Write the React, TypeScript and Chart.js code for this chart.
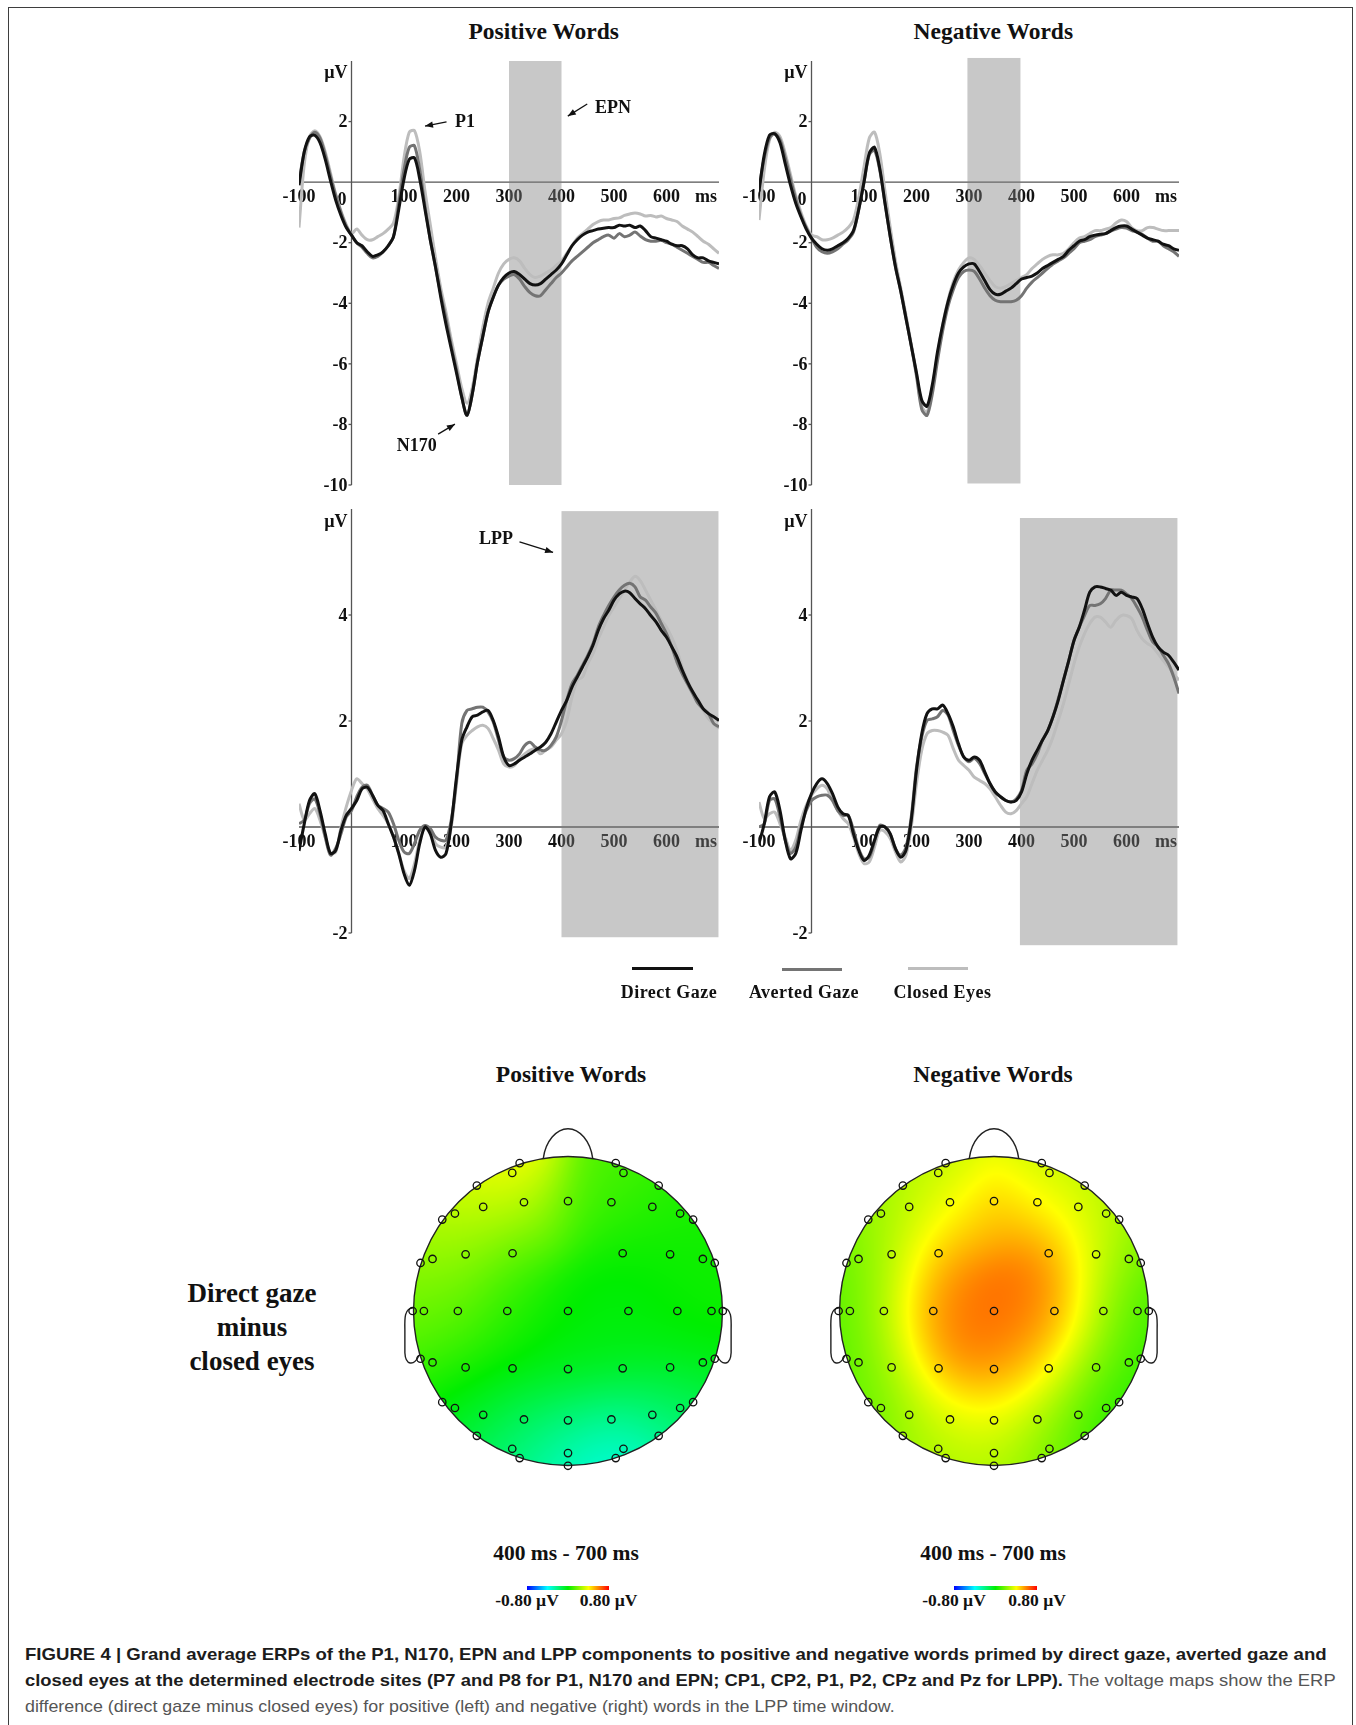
import React, { useEffect, useRef } from 'react';
import { Chart, registerables } from 'chart.js';
Chart.register(...registerables);

const SERIF = '"Liberation Serif", "Times New Roman", Times, serif';
const SANS = '"Liberation Sans", Arial, Helvetica, sans-serif';

// ---------- ERP data (µV), time in ms ----------
const TIMES = [
  -100, -90, -80, -70, -60, -50, -40, -30, -20, -10,
  0, 10, 20, 30, 40, 50, 60, 70, 80, 90,
  100, 110, 120, 130, 140, 150, 160, 170, 180, 190,
  200, 210, 220, 230, 240, 250, 260, 270, 280, 290,
  300, 310, 320, 330, 340, 350, 360, 370, 380, 390,
  400, 410, 420, 430, 440, 450, 460, 470, 480, 490,
  500, 510, 520, 530, 540, 550, 560, 570, 580, 590,
  600, 610, 620, 630, 640, 650, 660, 670, 680, 690,
  700,
];

const SERIES_LABELS = ['Direct Gaze', 'Averted Gaze', 'Closed Eyes'];
const SERIES_COLORS = ['#121212', '#747474', '#bdbdbd'];

const POS_EARLY_DIRECT = [
  -0.1, 1.0, 1.5, 1.55, 1.3, 0.75, 0.05, -0.6, -1.1, -1.5,
  -1.75, -2.0, -2.1, -2.3, -2.45, -2.4, -2.3, -2.1, -1.8, -0.9,
  0.1, 0.75, 0.8, 0.1, -0.9, -1.9, -2.8, -3.8, -4.7, -5.5,
  -6.3, -7.1, -7.7, -7.0, -5.95, -5.1, -4.3, -3.8, -3.4, -3.15,
  -3.0, -2.95, -3.05, -3.2, -3.35, -3.4, -3.35, -3.2, -3.05, -2.9,
  -2.7, -2.4, -2.1, -1.9, -1.75, -1.65, -1.6, -1.55, -1.52, -1.5,
  -1.5, -1.42, -1.45, -1.42, -1.5, -1.45, -1.6, -1.8, -1.85, -1.9,
  -1.95, -2.05, -2.1, -2.1, -2.2, -2.4, -2.5, -2.5, -2.6, -2.65,
  -2.7,
];
const POS_EARLY_AVERTED = [
  0.0, 1.0, 1.45, 1.65, 1.45, 0.9, 0.2, -0.45, -1.0, -1.45,
  -1.75, -2.0, -2.15, -2.35, -2.5, -2.45, -2.3, -2.1, -1.8, -0.7,
  0.4, 1.15, 1.2, 0.4, -0.8, -1.9, -2.8, -3.7, -4.5, -5.4,
  -6.2, -7.1, -7.7, -7.0, -5.95, -5.1, -4.3, -3.8, -3.4, -3.2,
  -3.1, -3.05, -3.2, -3.45, -3.65, -3.75, -3.75, -3.55, -3.35, -3.15,
  -3.0, -2.8, -2.6, -2.45, -2.3, -2.15, -2.0, -1.9, -1.8, -1.75,
  -1.85, -1.7, -1.8, -1.75, -1.65, -1.78, -1.9, -1.95, -1.95, -1.92,
  -2.0, -2.05, -2.15, -2.25, -2.35, -2.45, -2.55, -2.65, -2.65, -2.75,
  -2.85,
];
const POS_EARLY_CLOSED = [
  -1.5, 0.6, 1.5, 1.7, 1.5, 1.0, 0.3, -0.4, -0.95, -1.4,
  -1.7, -1.55, -1.75, -1.9, -1.9, -1.8, -1.7, -1.55, -1.35, -0.5,
  0.8, 1.65, 1.7, 1.0, -0.3, -1.4, -2.5, -3.5, -4.3, -5.2,
  -6.0, -6.8, -7.3, -6.8, -5.8, -4.8, -4.0, -3.5, -3.0, -2.7,
  -2.55, -2.5, -2.6, -2.85, -3.05, -3.15, -3.1, -3.0, -2.9, -2.75,
  -2.6, -2.35, -2.1, -1.85, -1.7, -1.55, -1.4, -1.3, -1.25, -1.25,
  -1.2, -1.18, -1.1, -1.05, -1.02, -1.05, -1.12, -1.1, -1.15, -1.12,
  -1.2, -1.25, -1.3, -1.45, -1.55, -1.65, -1.8, -1.95, -2.05, -2.2,
  -2.35,
];

const NEG_EARLY_DIRECT = [
  -0.3, 0.9, 1.55, 1.6, 1.3, 0.6, -0.1, -0.7, -1.15, -1.55,
  -1.85, -2.05, -2.2, -2.25, -2.2, -2.1, -2.0, -1.85, -1.6, -0.9,
  0.0, 0.95, 1.15, 0.45, -0.7, -1.8, -2.8, -3.6, -4.5, -5.4,
  -6.3, -7.2, -7.4, -6.7, -5.6, -4.7, -3.95, -3.4, -3.0, -2.8,
  -2.7, -2.7, -2.95, -3.25, -3.55, -3.7, -3.7, -3.6, -3.5, -3.35,
  -3.2, -3.15, -3.1, -3.0, -2.85, -2.75, -2.65, -2.55, -2.45, -2.25,
  -2.1, -1.95, -1.9, -1.8, -1.75, -1.72, -1.7, -1.6, -1.5, -1.45,
  -1.45, -1.55, -1.65, -1.75, -1.85, -1.9, -1.95, -2.05, -2.1, -2.2,
  -2.25,
];
const NEG_EARLY_AVERTED = [
  -0.2, 0.8, 1.45, 1.6, 1.4, 0.8, 0.1, -0.55, -1.1, -1.5,
  -1.85, -2.15, -2.3, -2.35, -2.3, -2.2, -2.05, -1.9, -1.65, -0.9,
  0.0, 0.9, 1.05, 0.4, -0.7, -1.8, -2.8, -3.6, -4.5, -5.4,
  -6.4, -7.5, -7.7, -7.0, -5.9, -4.9, -4.1, -3.55, -3.15, -2.95,
  -2.9, -2.95, -3.2, -3.5, -3.75, -3.9, -3.95, -3.95, -3.95, -3.9,
  -3.75, -3.5, -3.3, -3.15, -3.0, -2.85, -2.7, -2.6, -2.5, -2.35,
  -2.2, -2.0, -1.95, -1.9, -1.8, -1.75, -1.7, -1.62, -1.55, -1.5,
  -1.52, -1.6, -1.65, -1.72, -1.85, -1.95, -1.95, -2.1, -2.2, -2.3,
  -2.45,
];
const NEG_EARLY_CLOSED = [
  -1.25, 0.4, 1.4, 1.65, 1.5, 0.95, 0.25, -0.45, -1.0, -1.45,
  -1.75, -1.8, -1.9, -1.9, -1.85, -1.75, -1.65, -1.5, -1.25, -0.5,
  0.5, 1.45, 1.65, 0.95, -0.3, -1.5, -2.6, -3.5, -4.4, -5.35,
  -6.3, -7.4, -7.6, -6.8, -5.7, -4.7, -3.9, -3.3, -2.9, -2.65,
  -2.5, -2.55, -2.75, -3.0, -3.25, -3.45, -3.5, -3.45, -3.35, -3.25,
  -3.15, -3.05, -2.85, -2.7, -2.55, -2.45, -2.4, -2.4, -2.35, -2.2,
  -2.0, -1.85, -1.8, -1.7, -1.6, -1.6, -1.55, -1.5, -1.35, -1.25,
  -1.3, -1.5, -1.6, -1.6, -1.5, -1.5, -1.55, -1.6, -1.6, -1.6,
  -1.6,
];

const POS_LPP_DIRECT = [
  -0.45, 0.06, 0.5, 0.63, 0.31, -0.13, -0.5, -0.44, -0.06, 0.22,
  0.35, 0.5, 0.72, 0.75, 0.6, 0.41, 0.31, 0.06, -0.19, -0.5,
  -0.88, -1.1, -0.82, -0.31, 0.0, -0.13, -0.44, -0.57, -0.5, 0.06,
  0.94, 1.64, 1.89, 2.08, 2.11, 2.17, 2.2, 2.01, 1.7, 1.32,
  1.16, 1.19, 1.26, 1.32, 1.38, 1.45, 1.51, 1.6, 1.76, 1.98,
  2.2, 2.39, 2.64, 2.83, 3.02, 3.21, 3.43, 3.71, 3.93, 4.09,
  4.28, 4.4, 4.45, 4.42, 4.31, 4.21, 4.12, 3.99, 3.87, 3.71,
  3.58, 3.4, 3.21, 2.96, 2.74, 2.55, 2.39, 2.23, 2.14, 2.08,
  2.01,
];
const POS_LPP_AVERTED = [
  0.06, 0.13, 0.44, 0.53, 0.25, -0.19, -0.53, -0.4, -0.13, 0.19,
  0.31, 0.57, 0.75, 0.79, 0.6, 0.41, 0.35, 0.28, 0.06, -0.25,
  -0.47, -0.5, -0.31, -0.06, 0.03, -0.03, -0.19, -0.25, -0.25, 0.13,
  0.88, 1.95, 2.2, 2.23, 2.26, 2.26, 2.17, 1.98, 1.64, 1.32,
  1.26, 1.29, 1.38, 1.54, 1.6, 1.51, 1.45, 1.45, 1.54, 1.7,
  2.01, 2.39, 2.7, 2.86, 3.05, 3.24, 3.46, 3.77, 3.99, 4.18,
  4.34, 4.47, 4.56, 4.6, 4.53, 4.34, 4.28, 4.15, 4.03, 3.84,
  3.65, 3.4, 3.11, 2.89, 2.7, 2.52, 2.33, 2.23, 2.14, 1.95,
  1.89,
];
const POS_LPP_CLOSED = [
  0.44, 0.13, 0.25, 0.35, 0.13, -0.19, -0.5, -0.47, 0.0, 0.38,
  0.69, 0.91, 0.82, 0.72, 0.53, 0.35, 0.22, 0.06, -0.19, -0.5,
  -0.82, -0.97, -0.69, -0.25, 0.0, -0.06, -0.31, -0.38, -0.38, 0.0,
  0.82, 1.57, 1.73, 1.82, 1.89, 1.92, 1.86, 1.67, 1.45, 1.19,
  1.13, 1.16, 1.29, 1.38, 1.45, 1.48, 1.38, 1.45, 1.51, 1.64,
  1.76, 2.01, 2.45, 2.77, 2.83, 3.08, 3.27, 3.55, 3.77, 3.99,
  4.15, 4.31, 4.47, 4.62, 4.73, 4.65, 4.47, 4.28, 4.09, 3.9,
  3.77, 3.58, 3.33, 3.02, 2.77, 2.55, 2.36, 2.2, 2.04, 1.95,
  1.86,
];

const NEG_LPP_DIRECT = [
  -0.31, 0.06, 0.57, 0.66, 0.31, -0.25, -0.6, -0.5, -0.06, 0.35,
  0.63, 0.82, 0.91, 0.82, 0.63, 0.38, 0.25, 0.22, -0.13, -0.44,
  -0.63, -0.53, -0.25, 0.0, 0.0, -0.13, -0.41, -0.57, -0.44, 0.13,
  1.07, 1.76, 2.14, 2.23, 2.23, 2.3, 2.14, 1.89, 1.57, 1.32,
  1.26, 1.32, 1.26, 1.04, 0.82, 0.66, 0.57, 0.5, 0.47, 0.5,
  0.66, 1.0, 1.26, 1.45, 1.64, 1.82, 2.08, 2.39, 2.77, 3.14,
  3.52, 3.77, 4.09, 4.43, 4.53, 4.53, 4.5, 4.47, 4.37, 4.43,
  4.37, 4.34, 4.31, 4.12, 3.84, 3.58, 3.4, 3.3, 3.24, 3.11,
  2.96,
];
const NEG_LPP_AVERTED = [
  0.0, 0.06, 0.5, 0.53, 0.19, -0.25, -0.5, -0.38, 0.0, 0.31,
  0.5, 0.57, 0.6, 0.6, 0.5, 0.31, 0.22, 0.22, -0.06, -0.41,
  -0.6, -0.57, -0.28, 0.03, 0.0, -0.13, -0.41, -0.53, -0.38, 0.19,
  1.13, 1.7, 2.01, 2.04, 2.08, 2.2, 2.11, 1.82, 1.54, 1.32,
  1.23, 1.29, 1.2, 1.01, 0.82, 0.66, 0.57, 0.5, 0.47, 0.53,
  0.69, 1.07, 1.19, 1.38, 1.64, 1.82, 2.08, 2.42, 2.77, 3.14,
  3.52, 3.77, 3.99, 4.18, 4.18, 4.21, 4.31, 4.47, 4.47, 4.47,
  4.4, 4.31, 4.15, 3.96, 3.71, 3.49, 3.4, 3.24, 3.08, 2.83,
  2.52,
];
const NEG_LPP_CLOSED = [
  0.47, 0.16, 0.25, 0.28, 0.06, -0.19, -0.44, -0.25, 0.13, 0.41,
  0.6, 0.72, 0.79, 0.72, 0.5, 0.31, 0.16, 0.06, -0.19, -0.5,
  -0.69, -0.66, -0.38, -0.06, -0.09, -0.22, -0.47, -0.66, -0.53, 0.0,
  0.82, 1.45, 1.76, 1.82, 1.82, 1.79, 1.73, 1.48, 1.26, 1.16,
  1.07, 0.94, 0.88, 0.82, 0.72, 0.57, 0.41, 0.28, 0.25, 0.31,
  0.44, 0.57, 0.82, 1.07, 1.26, 1.45, 1.7, 2.01, 2.33, 2.7,
  3.08, 3.4, 3.65, 3.84, 3.96, 3.96, 3.87, 3.77, 3.9, 3.99,
  3.99, 3.93, 3.71, 3.55, 3.46, 3.4, 3.27, 3.14, 3.02, 2.89,
  2.77,
];

const X_TICKS_TOP = [-100, 0, 100, 200, 300, 400, 500, 600, 700];
const X_TICKS_BOTTOM = [-100, 100, 200, 300, 400, 500, 600, 700];
const Y_TICKS_TOP = [2, -2, -4, -6, -8, -10];
const Y_TICKS_BOTTOM = [4, 2, -2];

// ---------- Topographic map data ----------
// electrode positions (unit head circle, y positive = posterior)
const ELEC_X = [
  -1.006, -0.933, -0.713, -0.393, 0, 0.391, 0.708, 0.929, 1.002,
  -0.955, -0.877, -0.663, -0.359, 0.354, 0.661, 0.873, 0.95,
  -0.955, -0.877, -0.663, -0.359, 0, 0.354, 0.661, 0.873, 0.95,
  -0.814, -0.732, -0.549, -0.285, 0, 0.281, 0.546, 0.726, 0.81,
  -0.814, -0.732, -0.549, -0.285, 0, 0.281, 0.546, 0.726, 0.81,
  -0.59, -0.361, -0.313, 0.309, 0.359, 0.587,
  -0.59, -0.361, -0.313, 0, 0, 0.309, 0.359, 0.587,
];
const ELEC_Y = [
  0, 0, 0, 0, 0, 0, 0, 0, 0,
  -0.311, -0.337, -0.367, -0.374, -0.374, -0.367, -0.337, -0.311,
  0.309, 0.333, 0.365, 0.371, 0.376, 0.371, 0.365, 0.333, 0.309,
  -0.592, -0.631, -0.674, -0.704, -0.711, -0.704, -0.674, -0.631, -0.592,
  0.59, 0.628, 0.672, 0.702, 0.708, 0.702, 0.672, 0.628, 0.59,
  -0.812, -0.894, -0.957, -0.957, -0.894, -0.812,
  0.808, 0.892, 0.952, 0.92, 1.002, 0.952, 0.892, 0.808,
];
// direct gaze minus closed eyes, 400-700 ms (µV)
const POS_MAP_VALUES = [
  0.18, 0.17, 0.13, 0.06, 0.0, -0.02, 0.0, 0.02, 0.03,
  0.24, 0.22, 0.18, 0.1, 0.0, 0.0, 0.02, 0.03,
  0.12, 0.1, 0.06, 0.0, -0.03, -0.03, -0.02, -0.02, -0.03,
  0.32, 0.3, 0.26, 0.2, 0.12, 0.07, 0.05, 0.04, 0.04,
  -0.02, -0.04, -0.07, -0.1, -0.12, -0.14, -0.14, -0.15, -0.16,
  0.4, 0.42, 0.44, 0.14, 0.12, 0.07,
  -0.12, -0.2, -0.24, -0.28, -0.36, -0.42, -0.38, -0.28,
];
const NEG_MAP_VALUES = [
  0.08, 0.16, 0.38, 0.6, 0.64, 0.6, 0.36, 0.12, 0.04,
  0.1, 0.18, 0.38, 0.58, 0.64, 0.44, 0.2, 0.1,
  0.08, 0.16, 0.38, 0.62, 0.6, 0.5, 0.32, 0.12, 0.03,
  0.18, 0.22, 0.36, 0.48, 0.52, 0.52, 0.45, 0.28, 0.2,
  0.08, 0.14, 0.32, 0.44, 0.44, 0.38, 0.28, 0.08, -0.06,
  0.22, 0.28, 0.28, 0.28, 0.28, 0.22,
  0.18, 0.26, 0.24, 0.3, 0.24, 0.18, 0.16, -0.06,
];
const MAP_RANGE = [-0.8, 0.8];

// ---------- helpers ----------
function jet(v: number): [number, number, number] {
  let s = (v - MAP_RANGE[0]) / (MAP_RANGE[1] - MAP_RANGE[0]);
  s = Math.max(0, Math.min(1, s));
  const stops: [number, number, number, number][] = [
    [0, 0, 0, 255],
    [0.25, 0, 255, 255],
    [0.5, 0, 238, 0],
    [0.75, 255, 255, 0],
    [1, 255, 0, 0],
  ];
  for (let i = 0; i < stops.length - 1; i++) {
    const a = stops[i], b = stops[i + 1];
    if (s <= b[0]) {
      const f = (s - a[0]) / (b[0] - a[0]);
      return [a[1] + (b[1] - a[1]) * f, a[2] + (b[2] - a[2]) * f, a[3] + (b[3] - a[3]) * f];
    }
  }
  return [255, 0, 0];
}

type Note = { text: string; tx: number; ty: number; from: [number, number]; to: [number, number] };
type Panel = {
  left: number; top: number;
  series: number[][];
  yMin: number; yMax: number; yTicks: number[]; xTicks: number[]; unitY: number;
  shade: { x0: number; x1: number; y0: number; y1: number };
  notes: Note[];
};

const PAD = { left: 70, right: 50, top: 40, bottom: 40 };
const AREA_W = 420;
const AREA_H = 424;

function ErpPanel({ p }: { p: Panel }) {
  const ref = useRef<HTMLCanvasElement>(null);
  useEffect(() => {
    const axesPlugin = {
      id: 'erpAxes',
      beforeDatasetsDraw(chart: any) {
        const { ctx, scales } = chart;
        const x = scales.x, y = scales.y;
        const x0 = x.getPixelForValue(0);
        const y0 = y.getPixelForValue(0);
        ctx.save();
        ctx.strokeStyle = '#555';
        ctx.lineWidth = 1.3;
        ctx.beginPath();
        ctx.moveTo(x.getPixelForValue(-100), y0);
        ctx.lineTo(x.getPixelForValue(700), y0);
        ctx.moveTo(x0, y.getPixelForValue(p.yMax));
        ctx.lineTo(x0, y.getPixelForValue(p.yMin));
        ctx.stroke();
        ctx.fillStyle = '#111';
        ctx.font = `bold 18px ${SERIF}`;
        ctx.textBaseline = 'middle';
        ctx.textAlign = 'right';
        for (const v of p.yTicks) {
          const py = y.getPixelForValue(v);
          ctx.beginPath();
          ctx.moveTo(x0 - 3, py);
          ctx.lineTo(x0, py);
          ctx.stroke();
          ctx.fillText(String(v), x0 - 4, py + 1);
        }
        ctx.fillText('µV', x0 - 4, y.getPixelForValue(p.unitY));
        for (const t of p.xTicks) {
          const px = x.getPixelForValue(t);
          if (t === 0) {
            ctx.textAlign = 'right';
            ctx.fillText('0', x0 - 5, y0 + 18);
          } else {
            ctx.textAlign = 'center';
            ctx.fillText(t === 700 ? 'ms' : String(t), t === 700 ? px - 13 : px, y0 + 15);
          }
        }
        // analysis window
        const sx0 = x.getPixelForValue(p.shade.x0), sx1 = x.getPixelForValue(p.shade.x1);
        const sy0 = y.getPixelForValue(p.shade.y1), sy1 = y.getPixelForValue(p.shade.y0);
        ctx.fillStyle = 'rgba(128,128,128,0.43)';
        ctx.fillRect(sx0, sy0, sx1 - sx0, sy1 - sy0);
        // component annotations
        ctx.fillStyle = '#111';
        ctx.strokeStyle = '#111';
        ctx.lineWidth = 1.3;
        ctx.textAlign = 'left';
        for (const n of p.notes) {
          ctx.fillText(n.text, x.getPixelForValue(n.tx), y.getPixelForValue(n.ty));
          const ax = x.getPixelForValue(n.from[0]), ay = y.getPixelForValue(n.from[1]);
          const bx = x.getPixelForValue(n.to[0]), by = y.getPixelForValue(n.to[1]);
          ctx.beginPath();
          ctx.moveTo(ax, ay);
          ctx.lineTo(bx, by);
          ctx.stroke();
          const ang = Math.atan2(by - ay, bx - ax);
          const L = 8, Wd = 3.2;
          ctx.beginPath();
          ctx.moveTo(bx, by);
          ctx.lineTo(bx - L * Math.cos(ang) + Wd * Math.sin(ang), by - L * Math.sin(ang) - Wd * Math.cos(ang));
          ctx.lineTo(bx - L * Math.cos(ang) - Wd * Math.sin(ang), by - L * Math.sin(ang) + Wd * Math.cos(ang));
          ctx.closePath();
          ctx.fill();
        }
        ctx.restore();
      },
    };
    const chart = new Chart(ref.current as HTMLCanvasElement, {
      type: 'line',
      data: {
        datasets: SERIES_LABELS.map((label, i) => ({
          label,
          data: TIMES.map((t, k) => ({ x: t, y: p.series[i][k] })),
          borderColor: SERIES_COLORS[i],
          borderWidth: 3,
          pointRadius: 0,
          tension: 0.3,
          fill: false,
        })),
      },
      options: {
        responsive: false,
        animation: false,
        devicePixelRatio: 1,
        events: [],
        layout: { padding: PAD, autoPadding: false },
        plugins: { legend: { display: false }, tooltip: { enabled: false }, title: { display: false } },
        scales: {
          x: { type: 'linear', min: -100, max: 700, display: false },
          y: { type: 'linear', min: p.yMin, max: p.yMax, display: false },
        },
      } as any,
      plugins: [axesPlugin],
    });
    return () => chart.destroy();
  }, []);
  const w = AREA_W + PAD.left + PAD.right;
  const h = AREA_H + PAD.top + PAD.bottom;
  return (
    <canvas
      ref={ref}
      width={w}
      height={h}
      style={{ position: 'absolute', left: p.left - PAD.left, top: p.top - PAD.top, width: w, height: h }}
    />
  );
}

const MAP_SIZE = 380;
const MAP_EXTENT = 1.23;

function TopoMap({ left, top, values }: { left: number; top: number; values: number[] }) {
  const ref = useRef<HTMLCanvasElement>(null);
  useEffect(() => {
    const headPlugin = {
      id: 'head',
      beforeDatasetsDraw(chart: any) {
        const { ctx, scales } = chart;
        const x = scales.x, y = scales.y;
        const cx = x.getPixelForValue(0), cy = y.getPixelForValue(0);
        const r = x.getPixelForValue(1) - cx;
        const bx = Math.floor(cx - r) - 1, by = Math.floor(cy - r) - 1;
        const size = Math.ceil(2 * r) + 3;
        const img = ctx.createImageData(size, size);
        const sig2 = 2 * 0.22 * 0.22;
        for (let j = 0; j < size; j++) {
          const ny = y.getValueForPixel(by + j + 0.5);
          for (let i = 0; i < size; i++) {
            const nx = x.getValueForPixel(bx + i + 0.5);
            if (nx * nx + ny * ny > 1.0) continue;
            let sw = 0, sv = 0;
            for (let k = 0; k < ELEC_X.length; k++) {
              const dx = nx - ELEC_X[k], dy = ny - ELEC_Y[k];
              const w = Math.exp(-(dx * dx + dy * dy) / sig2);
              sw += w;
              sv += w * values[k];
            }
            const c = jet(sv / sw);
            const o = (j * size + i) * 4;
            img.data[o] = c[0];
            img.data[o + 1] = c[1];
            img.data[o + 2] = c[2];
            img.data[o + 3] = 255;
          }
        }
        ctx.putImageData(img, bx, by);
        const P = (a: number, b: number): [number, number] => [x.getPixelForValue(a), y.getPixelForValue(b)];
        ctx.save();
        ctx.strokeStyle = '#222';
        ctx.lineWidth = 1.4;
        ctx.beginPath();
        ctx.arc(cx, cy, r, 0, Math.PI * 2);
        ctx.stroke();
        // nose
        ctx.beginPath();
        ctx.moveTo(...P(-0.16, -0.988));
        ctx.bezierCurveTo(...P(-0.145, -1.1), ...P(-0.075, -1.18), ...P(0, -1.18));
        ctx.bezierCurveTo(...P(0.075, -1.18), ...P(0.145, -1.1), ...P(0.16, -0.988));
        ctx.stroke();
        // ears
        for (const sgn of [-1, 1]) {
          ctx.beginPath();
          ctx.moveTo(...P(sgn * 1.0, -0.02));
          ctx.bezierCurveTo(...P(sgn * 1.06, -0.02), ...P(sgn * 1.058, 0.05), ...P(sgn * 1.056, 0.12));
          ctx.lineTo(...P(sgn * 1.056, 0.27));
          ctx.bezierCurveTo(...P(sgn * 1.052, 0.35), ...P(sgn * 1.0, 0.36), ...P(sgn * 0.965, 0.29));
          ctx.stroke();
        }
        ctx.restore();
      },
    };
    const chart = new Chart(ref.current as HTMLCanvasElement, {
      type: 'scatter',
      data: {
        datasets: [{
          label: 'electrodes',
          data: ELEC_X.map((ex, i) => ({ x: ex, y: ELEC_Y[i] })),
          pointRadius: 3.7,
          pointBorderWidth: 1.3,
          pointBorderColor: '#111',
          pointBackgroundColor: 'rgba(0,0,0,0)',
          showLine: false,
        }],
      },
      options: {
        responsive: false,
        animation: false,
        devicePixelRatio: 1,
        events: [],
        layout: { padding: 0, autoPadding: false },
        plugins: { legend: { display: false }, tooltip: { enabled: false } },
        scales: {
          x: { type: 'linear', min: -MAP_EXTENT, max: MAP_EXTENT, display: false },
          y: { type: 'linear', min: -MAP_EXTENT, max: MAP_EXTENT, reverse: true, display: false },
        },
      } as any,
      plugins: [headPlugin],
    });
    return () => chart.destroy();
  }, []);
  return (
    <canvas
      ref={ref}
      width={MAP_SIZE}
      height={MAP_SIZE}
      style={{ position: 'absolute', left, top, width: MAP_SIZE, height: MAP_SIZE }}
    />
  );
}

function Txt({ x, y, size, children, weight = 700, color = '#111', spacing = 0 }: any) {
  const style: any = {
    position: 'absolute',
    left: x,
    top: y - 0.8375 * size,
    transform: 'translateX(-50%)',
    fontFamily: SERIF,
    fontSize: size,
    lineHeight: `${size}px`,
    fontWeight: weight,
    color,
    whiteSpace: 'nowrap',
    letterSpacing: spacing,
  };
  return <div style={style}>{children}</div>;
}

let measureCtx: CanvasRenderingContext2D | null = null;
function textWidth(text: string, font: string) {
  if (!measureCtx) measureCtx = document.createElement('canvas').getContext('2d');
  measureCtx!.font = font;
  return measureCtx!.measureText(text).width;
}

const CAPTION_SIZE = 17;
function CaptionLine({ parts, baseline, target }: { parts: { text: string; bold: boolean }[]; baseline: number; target: number }) {
  const w = parts.reduce((s, p) => s + textWidth(p.text, `${p.bold ? 'bold ' : ''}${CAPTION_SIZE}px ${SANS}`), 0);
  const sx = w > 0 ? target / w : 1;
  return (
    <div
      style={{
        position: 'absolute',
        left: 25,
        top: baseline - 0.8465 * CAPTION_SIZE,
        fontFamily: SANS,
        fontSize: CAPTION_SIZE,
        lineHeight: `${CAPTION_SIZE}px`,
        whiteSpace: 'pre',
        transform: `scaleX(${sx})`,
        transformOrigin: '0 0',
      }}
    >
      {parts.map((p, i) => (
        <span key={i} style={{ fontWeight: p.bold ? 700 : 400, color: p.bold ? '#1c1c1c' : '#555' }}>{p.text}</span>
      ))}
    </div>
  );
}

const PANELS: Panel[] = [
  {
    left: 299, top: 61,
    series: [POS_EARLY_DIRECT, POS_EARLY_AVERTED, POS_EARLY_CLOSED],
    yMin: -10, yMax: 4, yTicks: Y_TICKS_TOP, xTicks: X_TICKS_TOP, unitY: 3.6,
    shade: { x0: 300, x1: 400, y0: -10, y1: 4 },
    notes: [
      { text: 'P1', tx: 197, ty: 1.96, from: [181, 1.99], to: [140, 1.85] },
      { text: 'EPN', tx: 464, ty: 2.43, from: [449, 2.58], to: [412, 2.18] },
      { text: 'N170', tx: 86, ty: -8.74, from: [165, -8.32], to: [197, -7.99] },
    ],
  },
  {
    left: 759, top: 61,
    series: [NEG_EARLY_DIRECT, NEG_EARLY_AVERTED, NEG_EARLY_CLOSED],
    yMin: -10, yMax: 4, yTicks: Y_TICKS_TOP, xTicks: X_TICKS_TOP, unitY: 3.6,
    shade: { x0: 297, x1: 398, y0: -9.95, y1: 4.1 },
    notes: [],
  },
  {
    left: 299, top: 509,
    series: [POS_LPP_DIRECT, POS_LPP_AVERTED, POS_LPP_CLOSED],
    yMin: -2, yMax: 6, yTicks: Y_TICKS_BOTTOM, xTicks: X_TICKS_BOTTOM, unitY: 5.75,
    shade: { x0: 400, x1: 699, y0: -2.08, y1: 5.96 },
    notes: [{ text: 'LPP', tx: 243, ty: 5.43, from: [320, 5.38], to: [384, 5.18] }],
  },
  {
    left: 759, top: 509,
    series: [NEG_LPP_DIRECT, NEG_LPP_AVERTED, NEG_LPP_CLOSED],
    yMin: -2, yMax: 6, yTicks: Y_TICKS_BOTTOM, xTicks: X_TICKS_BOTTOM, unitY: 5.75,
    shade: { x0: 397, x1: 697, y0: -2.23, y1: 5.83 },
    notes: [],
  },
];

const LEGEND_ITEMS = [
  { x0: 632, x1: 693, y: 966.5, cx: 669 },
  { x0: 782, x1: 842, y: 968, cx: 804 },
  { x0: 908, x1: 968, y: 966.5, cx: 942.5 },
];

const GRADIENT = 'linear-gradient(to right, #0000ff, #00ffff, #00ee00, #ffff00, #ff0000)';

export default function App() {
  return (
    <div style={{ position: 'absolute', left: 0, top: 0, width: 1356, height: 1725, background: '#fff', overflow: 'hidden' }}>
      <div
        style={{
          position: 'absolute', left: 8, top: 7, width: 1345, height: 1760, boxSizing: 'border-box',
          borderTop: '1.6px solid #3e3e3e', borderLeft: '1.6px solid #3e3e3e', borderRight: '1.6px solid #3e3e3e',
        }}
      />
      <Txt x={543.7} y={40} size={23.5}>Positive Words</Txt>
      <Txt x={993.3} y={40} size={23.5}>Negative Words</Txt>

      {PANELS.map((p, i) => <ErpPanel key={i} p={p} />)}

      {LEGEND_ITEMS.map((it, i) => (
        <React.Fragment key={i}>
          <div style={{ position: 'absolute', left: it.x0, top: it.y, width: it.x1 - it.x0, height: 3, background: SERIES_COLORS[i] }} />
          <Txt x={it.cx} y={998} size={18} spacing={0.5}>{SERIES_LABELS[i]}</Txt>
        </React.Fragment>
      ))}

      <Txt x={571} y={1082.5} size={23.5}>Positive Words</Txt>
      <Txt x={993} y={1082.5} size={23.5}>Negative Words</Txt>

      <Txt x={252} y={1302.5} size={27}>Direct gaze</Txt>
      <Txt x={252} y={1337} size={27}>minus</Txt>
      <Txt x={252} y={1370.5} size={27}>closed eyes</Txt>

      <TopoMap left={378} top={1121} values={POS_MAP_VALUES} />
      <TopoMap left={804} top={1121} values={NEG_MAP_VALUES} />

      <Txt x={566} y={1561} size={21.5}>400 ms - 700 ms</Txt>
      <Txt x={993} y={1561} size={21.5}>400 ms - 700 ms</Txt>

      <div style={{ position: 'absolute', left: 527, top: 1585.5, width: 82, height: 4, background: GRADIENT }} />
      <div style={{ position: 'absolute', left: 954, top: 1585.5, width: 83, height: 4, background: GRADIENT }} />
      <Txt x={527} y={1607} size={17.5}>-0.80 µV</Txt>
      <Txt x={608.5} y={1607} size={17.5}>0.80 µV</Txt>
      <Txt x={954} y={1607} size={17.5}>-0.80 µV</Txt>
      <Txt x={1037} y={1607} size={17.5}>0.80 µV</Txt>

      <CaptionLine
        baseline={1660}
        target={1302}
        parts={[{ text: 'FIGURE 4 | Grand average ERPs of the P1, N170, EPN and LPP components to positive and negative words primed by direct gaze, averted gaze and', bold: true }]}
      />
      <CaptionLine
        baseline={1686}
        target={1311}
        parts={[
          { text: 'closed eyes at the determined electrode sites (P7 and P8 for P1, N170 and EPN; CP1, CP2, P1, P2, CPz and Pz for LPP).', bold: true },
          { text: ' The voltage maps show the ERP', bold: false },
        ]}
      />
      <CaptionLine
        baseline={1712}
        target={870}
        parts={[{ text: 'difference (direct gaze minus closed eyes) for positive (left) and negative (right) words in the LPP time window.', bold: false }]}
      />
    </div>
  );
}
